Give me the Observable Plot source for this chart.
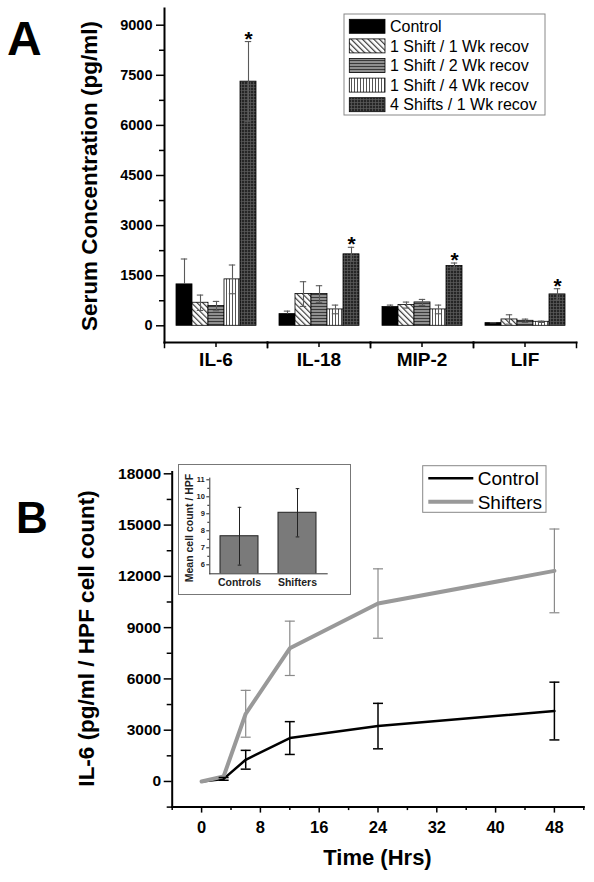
<!DOCTYPE html>
<html><head><meta charset="utf-8">
<script src="https://cdn.jsdelivr.net/npm/d3@7"></script>
<script src="https://cdn.jsdelivr.net/npm/@observablehq/plot@0.6"></script>
<style>
html,body{margin:0;padding:0;background:#fff;}
#root{position:relative;width:594px;height:882px;overflow:hidden;font-family:"Liberation Sans",Arial,sans-serif;}
#root > *{position:absolute;}
</style></head><body><div id="root"></div>
<script>
const FONT = '"Liberation Sans", Arial, sans-serif';

// ---------- Panel A data ----------
const cytokines = ["IL-6", "IL-18", "MIP-2", "LIF"];
const groups = ["Control", "1 Shift / 1 Wk recov", "1 Shift / 2 Wk recov", "1 Shift / 4 Wk recov", "4 Shifts / 1 Wk recov"];
const controlVals = [1240, 350, 560, 80];
const controlErr  = [760, 90, 60, 10];
const s1w1Vals = [690, 950, 620, 190];
const s1w1Err  = [230, 370, 90, 140];
const s1w2Vals = [590, 950, 700, 150];
const s1w2Err  = [140, 250, 90, 50];
const s1w4Vals = [1390, 490, 490, 120];
const s1w4Err  = [430, 130, 130, 20];
const s4w1Vals = [7310, 2140, 1790, 940];
const s4w1Err  = [1200, 210, 90, 170];
const significant = [true, true, true, true]; // asterisk on "4 Shifts / 1 Wk recov"
const aYTicks = [0, 1500, 3000, 4500, 6000, 7500, 9000];
const aYMinor = [750, 2250, 3750, 5250, 6750, 8250];

// ---------- Panel B data ----------
const times = [0, 3, 6, 12, 24, 48];
const controlIL6 = [0, 150, 1270, 2540, 3240, 4120];
const controlIL6Err = [0, 80, 550, 960, 1330, 1690];
const shiftIL6 = [0, 300, 3960, 7790, 10410, 12320];
const shiftIL6Err = [0, 0, 1370, 1590, 2030, 2450];
const bYTicks = [0, 3000, 6000, 9000, 12000, 15000, 18000];
const bYMinor = [-1500, 1500, 4500, 7500, 10500, 13500, 16500];
const bXTicks = [0, 8, 16, 24, 32, 40, 48];
const bXMinor = [-4, 4, 12, 20, 28, 36, 44, 52];

// ---------- Inset data ----------
const insetGroups = ["Controls", "Shifters"];
const insetMeans = [7.68, 9.06];
const insetErr = [1.7, 1.42];
const insetYTicks = [6, 7, 8, 9, 10, 11];
const insetYMinor = [6.5, 7.5, 8.5, 9.5, 10.5];

// ---------- build tables ----------
const seriesVals = [controlVals, s1w1Vals, s1w2Vals, s1w4Vals, s4w1Vals];
const seriesErr = [controlErr, s1w1Err, s1w2Err, s1w4Err, s4w1Err];
const rowsA = [];
groups.forEach((g, gi) => cytokines.forEach((c, ci) => rowsA.push({cat: c, group: g, v: seriesVals[gi][ci], e: seriesErr[gi][ci]})));
const starRows = rowsA.filter(d => d.group === groups[4] && significant[cytokines.indexOf(d.cat)]);
const ctrlA = rowsA.filter(d => d.group === groups[0]);
const otherA = rowsA.filter(d => d.group !== groups[0]);
const fills = ["#000", "url(#pDiag)", "url(#pHoriz)", "url(#pVert)", "url(#pGrid)"];

const ctrlRows = times.map((t, i) => ({t, v: controlIL6[i], e: controlIL6Err[i]}));
const shiftRows = times.map((t, i) => ({t, v: shiftIL6[i], e: shiftIL6Err[i]}));
const insetRows = insetGroups.map((g, i) => ({g, v: insetMeans[i], e: insetErr[i]}));

const root = document.getElementById("root");

// pattern definitions
const defs = `<svg width="0" height="0" style="position:absolute;left:0;top:0" xmlns="http://www.w3.org/2000/svg"><defs>
<pattern id="pDiag" patternUnits="userSpaceOnUse" width="4" height="4" patternTransform="rotate(-45)"><rect width="4" height="4" fill="#fff"/><line x1="0.6" y1="0" x2="0.6" y2="4" stroke="#3a3a3a" stroke-width="1.2"/></pattern>
<pattern id="pHoriz" patternUnits="userSpaceOnUse" width="4" height="3"><rect width="4" height="3" fill="#8f8f8f"/><line x1="0" y1="0.5" x2="4" y2="0.5" stroke="#3a3a3a" stroke-width="1"/></pattern>
<pattern id="pVert" patternUnits="userSpaceOnUse" width="3" height="4"><rect width="3" height="4" fill="#fff"/><line x1="0.5" y1="0" x2="0.5" y2="4" stroke="#555" stroke-width="1"/></pattern>
<pattern id="pGrid" patternUnits="userSpaceOnUse" width="3" height="3"><rect width="3" height="3" fill="#262626"/><line x1="0" y1="0.4" x2="3" y2="0.4" stroke="#5c5c5c" stroke-width="0.8"/><line x1="0.4" y1="0" x2="0.4" y2="3" stroke="#5c5c5c" stroke-width="0.8"/></pattern>
</defs></svg>`;
root.insertAdjacentHTML("beforeend", defs);

// ---------- Panel A ----------
const A_H = 380, A_MT = 8, A_MB = 38;
const aInner = A_H - A_MT - A_MB;
const errA = "#5a5a5a";
const plotA = Plot.plot({
  width: 594, height: A_H,
  marginTop: A_MT, marginBottom: A_MB, marginLeft: 163, marginRight: 17,
  style: {fontFamily: FONT, color: "#000", background: "transparent", overflow: "visible"},
  fx: {domain: cytokines, padding: 0, label: null},
  x: {domain: groups, paddingInner: 0, paddingOuter: 0.63, axis: null},
  y: {domain: [-500, 9500], label: null},
  marks: [
    ...groups.map((g, gi) => Plot.barY(rowsA.filter(d => d.group === g), {fx: "cat", x: "group", y: "v", fill: fills[gi], stroke: "#000", strokeWidth: 0.8})),
    // error bars: patterned groups
    Plot.ruleX(otherA, {fx: "cat", x: "group", y1: d => d.v - d.e, y2: d => d.v + d.e, stroke: errA, strokeWidth: 1.1}),
    Plot.tickY(otherA, {fx: "cat", x: "group", y: d => d.v + d.e, insetLeft: 4.8, insetRight: 4.8, stroke: errA, strokeWidth: 1.1}),
    Plot.tickY(otherA, {fx: "cat", x: "group", y: d => d.v - d.e, insetLeft: 4.8, insetRight: 4.8, stroke: errA, strokeWidth: 1.1}),
    // error bars: control (lower half falls inside the black bar)
    Plot.ruleX(ctrlA, {fx: "cat", x: "group", y1: d => d.v - d.e, y2: "v", stroke: "#000", strokeWidth: 1.1}),
    Plot.ruleX(ctrlA, {fx: "cat", x: "group", y1: "v", y2: d => d.v + d.e, stroke: errA, strokeWidth: 1.1}),
    Plot.tickY(ctrlA, {fx: "cat", x: "group", y: d => d.v + d.e, insetLeft: 4.8, insetRight: 4.8, stroke: errA, strokeWidth: 1.1}),
    Plot.text(starRows, {fx: "cat", x: "group", y: d => d.v + d.e, text: () => "*", lineAnchor: "bottom", dy: 4, fontSize: 21, fontWeight: "bold"}),
    Plot.axisY({ticks: aYTicks, tickSize: 8, tickPadding: 4, tickFormat: "d", fontSize: 14.5, fontWeight: "bold", label: null, strokeWidth: 1.5}),
    Plot.axisY({ticks: aYMinor, tickSize: 5, tickFormat: () => "", label: null, strokeWidth: 1.5}),
    Plot.axisFx({anchor: "bottom", tickSize: 5, tickPadding: 5, fontSize: 19, fontWeight: "bold", label: null, strokeWidth: 1.5}),
    Plot.frame({anchor: "bottom", strokeWidth: 2}),
    Plot.frame({anchor: "left", facetAnchor: "left", strokeWidth: 2}),
    Plot.frame({anchor: "left", insetTop: aInner, insetBottom: -5, strokeWidth: 1.5}),
    Plot.frame({anchor: "right", insetTop: aInner, insetBottom: -5, strokeWidth: 1.5})
  ]
});
plotA.style.left = "0px"; plotA.style.top = "0px";
root.appendChild(plotA);

// ---------- Panel B ----------
const capSymbol = {draw(ctx, size) { const r = Math.sqrt(size / Math.PI); ctx.moveTo(-r, 0); ctx.lineTo(r, 0); }};
const ctrlErrRows = ctrlRows.filter(d => d.e > 0);
const shiftErrRows = shiftRows.filter(d => d.e > 0);
const plotB = Plot.plot({
  width: 594, height: 442,
  marginTop: 31.6, marginBottom: 75.4, marginLeft: 171.7, marginRight: 10.7,
  style: {fontFamily: FONT, color: "#000", background: "transparent", overflow: "visible"},
  x: {domain: [-4, 52], label: null},
  y: {domain: [-1500, 18100], label: null},
  marks: [
    Plot.axisY({ticks: bYTicks, tickSize: 8, tickPadding: 3, tickFormat: "d", fontSize: 15.5, fontWeight: "bold", label: null, strokeWidth: 1.5}),
    Plot.axisY({ticks: bYMinor, tickSize: 5, tickFormat: () => "", label: null, strokeWidth: 1.5}),
    Plot.axisX({ticks: bXTicks, tickSize: 6, tickPadding: 8, tickFormat: "d", fontSize: 16.5, fontWeight: "bold", label: null, strokeWidth: 1.5}),
    Plot.axisX({ticks: bXMinor, tickSize: 3.5, tickFormat: () => "", label: null, strokeWidth: 1.5}),
    Plot.frame({anchor: "left", strokeWidth: 2}),
    Plot.frame({anchor: "bottom", strokeWidth: 2}),
    Plot.ruleX(shiftErrRows, {x: "t", y1: d => d.v - d.e, y2: d => d.v + d.e, stroke: "#8a8a8a", strokeWidth: 1.2}),
    Plot.dot(shiftErrRows, {x: "t", y: d => d.v + d.e, symbol: capSymbol, r: 5, stroke: "#8a8a8a", strokeWidth: 1.2, fill: "none"}),
    Plot.dot(shiftErrRows, {x: "t", y: d => d.v - d.e, symbol: capSymbol, r: 5, stroke: "#8a8a8a", strokeWidth: 1.2, fill: "none"}),
    Plot.line(ctrlRows, {x: "t", y: "v", stroke: "#000", strokeWidth: 2.5}),
    Plot.line(shiftRows, {x: "t", y: "v", stroke: "#999", strokeWidth: 4}),
    Plot.ruleX(ctrlErrRows, {x: "t", y1: d => d.v - d.e, y2: d => d.v + d.e, stroke: "#000", strokeWidth: 1.5}),
    Plot.dot(ctrlErrRows, {x: "t", y: d => d.v + d.e, symbol: capSymbol, r: 5, stroke: "#000", strokeWidth: 1.5, fill: "none"}),
    Plot.dot(ctrlErrRows, {x: "t", y: d => d.v - d.e, symbol: capSymbol, r: 5, stroke: "#000", strokeWidth: 1.5, fill: "none"})
  ]
});
plotB.style.left = "0px"; plotB.style.top = "440px";
root.appendChild(plotB);

// ---------- Inset ----------
const insetBox = document.createElement("div");
insetBox.style.cssText = "left:178px;top:464px;width:171px;height:129px;border:1px solid #777;background:#fff;";
const plotC = Plot.plot({
  width: 171, height: 129,
  marginTop: 12.6, marginBottom: 20.7, marginLeft: 30.3, marginRight: 23.3,
  style: {fontFamily: FONT, color: "#222", background: "transparent", overflow: "visible"},
  x: {domain: insetGroups, paddingInner: 0.35, paddingOuter: 0.175, label: null},
  y: {domain: [5.47, 11.1], label: null},
  marks: [
    Plot.barY(insetRows, {x: "g", y: "v", fill: "#7a7a7a", stroke: "#222", strokeWidth: 1, clip: true}),
    Plot.ruleX(insetRows, {x: "g", y1: d => d.v - d.e, y2: d => d.v + d.e, stroke: "#222", strokeWidth: 1}),
    Plot.dot(insetRows, {x: "g", y: d => d.v + d.e, symbol: capSymbol, r: 1.8, stroke: "#222", strokeWidth: 1, fill: "none"}),
    Plot.dot(insetRows, {x: "g", y: d => d.v - d.e, symbol: capSymbol, r: 1.8, stroke: "#222", strokeWidth: 1, fill: "none"}),
    Plot.axisY({ticks: insetYTicks, tickSize: 3, tickPadding: 2, tickFormat: "d", fontSize: 7.5, fontWeight: "bold", label: null}),
    Plot.axisY({ticks: insetYMinor, tickSize: 2, tickFormat: () => "", label: null}),
    Plot.axisX({tickSize: 0, tickPadding: 5, fontSize: 10.5, fontWeight: "bold", label: null}),
    Plot.frame({anchor: "left", stroke: "#333", strokeWidth: 1}),
    Plot.frame({anchor: "bottom", stroke: "#333", strokeWidth: 1})
  ]
});
plotC.style.position = "absolute"; plotC.style.left = "0px"; plotC.style.top = "0px";
insetBox.appendChild(plotC);
root.appendChild(insetBox);

// ---------- Overlay: panel letters, axis titles, legends ----------
const legendA = groups.map((g, i) => {
  const cy = 26.3 + i * 19.6;
  return `<rect x="349.3" y="${cy - 7}" width="35.7" height="14" fill="${fills[i]}" stroke="#000" stroke-width="0.8"/>
  <text x="390" y="${cy + 5.6}" font-size="16">${g}</text>`;
}).join("");
const legendBNames = ["Control", "Shifters"];
const legendBStyles = [{s: "#000", w: 2.5}, {s: "#999", w: 4}];
const legendB = legendBNames.map((n, i) => {
  const cy = 478.3 + i * 23.4;
  return `<line x1="428.3" x2="473.3" y1="${cy}" y2="${cy}" stroke="${legendBStyles[i].s}" stroke-width="${legendBStyles[i].w}"/>
  <text x="477.7" y="${cy + 6.8}" font-size="19">${n}</text>`;
}).join("");
const overlay = `<svg width="594" height="882" style="left:0;top:0;pointer-events:none" xmlns="http://www.w3.org/2000/svg" font-family='${FONT}'>
<text x="7" y="55" font-size="48" font-weight="bold">A</text>
<text x="16" y="533" font-size="44" font-weight="bold">B</text>
<text transform="translate(96.5,176) rotate(-90)" text-anchor="middle" font-size="22.5" font-weight="bold">Serum Concentration (pg/ml)</text>
<text transform="translate(94,638.5) rotate(-90)" text-anchor="middle" font-size="22.5" font-weight="bold">IL-6 (pg/ml / HPF cell count)</text>
<text x="377.5" y="865" text-anchor="middle" font-size="22" font-weight="bold">Time (Hrs)</text>
<text transform="translate(192.8,528) rotate(-90)" text-anchor="middle" font-size="10.5" font-weight="bold" fill="#222">Mean cell count / HPF</text>
<rect x="344" y="14" width="201" height="101" fill="none" stroke="#888" stroke-width="1"/>
${legendA}
<rect x="422.7" y="465.7" width="123.3" height="46.6" fill="#fff" stroke="#888" stroke-width="1"/>
${legendB}
</svg>`;
root.insertAdjacentHTML("beforeend", overlay);
</script></body></html>
